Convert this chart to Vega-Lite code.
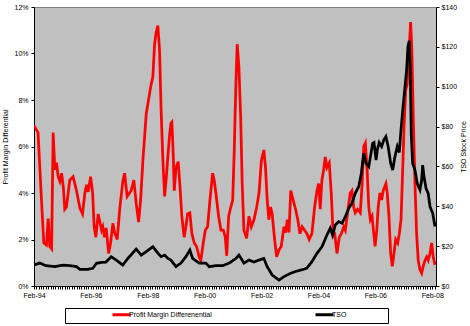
{
  "$schema": "https://vega.github.io/schema/vega-lite/v6.json",
  "width": 402,
  "height": 279,
  "autosize": "none",
  "padding": {"left": 34, "top": 7, "right": 34, "bottom": 40},
  "background": "white",
  "config": {
    "view": {"fill": "#C0C0C0", "stroke": "#808080", "strokeWidth": 1},
    "font": "Liberation Sans",
    "axis": {
      "labelFont": "Liberation Sans", "labelFontSize": 7, "labelColor": "black",
      "titleFont": "Liberation Sans", "titleFontSize": 7, "titleFontWeight": "normal", "titleColor": "black",
      "domainColor": "black", "domainWidth": 1, "tickColor": "black", "tickSize": 3, "grid": false
    },
    "legend": {
      "strokeColor": "black", "fillColor": "white", "padding": 2,
      "labelFont": "Liberation Sans", "labelFontSize": 7, "labelColor": "black", "labelLimit": 300,
      "symbolType": "M-3,0H3", "symbolSize": 36, "symbolStrokeWidth": 3,
      "symbolOffset": 50, "labelOffset": 3, "columnPadding": 50
    }
  },
  "datasets": {
    "pmd": [
      {"date":"1994-02-01","value":6.9},{"date":"1994-03-25","value":6.6},{"date":"1994-05-08","value":3.7},{"date":"1994-06-07","value":1.85},{"date":"1994-07-11","value":1.76},{"date":"1994-08-02","value":2.9},{"date":"1994-08-23","value":1.7},{"date":"1994-09-15","value":1.6},{"date":"1994-10-05","value":6.6},{"date":"1994-10-27","value":5.0},{"date":"1994-11-18","value":5.3},{"date":"1994-12-08","value":4.7},{"date":"1994-12-30","value":4.5},{"date":"1995-01-21","value":4.85},{"date":"1995-02-11","value":4.3},{"date":"1995-03-03","value":3.3},{"date":"1995-03-25","value":3.4},{"date":"1995-05-06","value":4.55},{"date":"1995-06-18","value":4.7},{"date":"1995-08-01","value":4.1},{"date":"1995-09-13","value":3.35},{"date":"1995-10-17","value":3.1},{"date":"1995-11-16","value":4.0},{"date":"1995-12-08","value":4.35},{"date":"1995-12-28","value":4.05},{"date":"1996-01-29","value":4.7},{"date":"1996-02-24","value":4.0},{"date":"1996-03-14","value":2.55},{"date":"1996-04-05","value":2.1},{"date":"1996-05-05","value":3.1},{"date":"1996-05-27","value":2.75},{"date":"1996-06-18","value":2.4},{"date":"1996-07-04","value":2.55},{"date":"1996-07-26","value":2.1},{"date":"1996-08-16","value":2.5},{"date":"1996-09-16","value":1.4},{"date":"1996-10-11","value":1.85},{"date":"1996-11-10","value":2.7},{"date":"1996-12-02","value":2.3},{"date":"1997-01-05","value":2.0},{"date":"1997-02-05","value":3.3},{"date":"1997-03-17","value":4.5},{"date":"1997-04-09","value":4.85},{"date":"1997-05-12","value":3.85},{"date":"1997-06-12","value":4.0},{"date":"1997-07-02","value":4.1},{"date":"1997-08-06","value":4.55},{"date":"1997-09-05","value":3.55},{"date":"1997-10-06","value":2.75},{"date":"1997-11-01","value":3.7},{"date":"1997-11-30","value":5.4},{"date":"1998-01-12","value":7.4},{"date":"1998-02-25","value":8.3},{"date":"1998-03-15","value":8.65},{"date":"1998-04-07","value":9.0},{"date":"1998-04-29","value":10.4},{"date":"1998-05-19","value":10.9},{"date":"1998-06-10","value":11.2},{"date":"1998-07-02","value":10.15},{"date":"1998-07-22","value":7.55},{"date":"1998-08-14","value":5.4},{"date":"1998-09-05","value":3.85},{"date":"1998-09-25","value":4.6},{"date":"1998-10-17","value":5.6},{"date":"1998-11-08","value":6.5},{"date":"1998-11-25","value":7.0},{"date":"1998-12-07","value":7.05},{"date":"1998-12-24","value":5.7},{"date":"1999-01-07","value":4.1},{"date":"1999-01-29","value":5.1},{"date":"1999-02-26","value":5.35},{"date":"1999-03-19","value":4.4},{"date":"1999-04-14","value":3.0},{"date":"1999-05-13","value":2.1},{"date":"1999-06-05","value":2.55},{"date":"1999-06-26","value":3.1},{"date":"1999-07-26","value":3.15},{"date":"1999-08-21","value":2.25},{"date":"1999-09-20","value":1.85},{"date":"1999-10-20","value":1.7},{"date":"1999-11-23","value":1.25},{"date":"1999-12-14","value":1.1},{"date":"2000-01-14","value":1.85},{"date":"2000-02-09","value":2.4},{"date":"2000-03-10","value":2.55},{"date":"2000-04-09","value":3.7},{"date":"2000-05-13","value":4.85},{"date":"2000-06-03","value":4.55},{"date":"2000-06-24","value":4.0},{"date":"2000-07-29","value":3.0},{"date":"2000-08-28","value":2.4},{"date":"2000-09-27","value":2.4},{"date":"2000-10-23","value":2.1},{"date":"2000-11-10","value":1.3},{"date":"2000-12-05","value":3.0},{"date":"2000-12-26","value":3.3},{"date":"2001-01-26","value":3.7},{"date":"2001-02-15","value":5.85},{"date":"2001-03-08","value":8.7},{"date":"2001-03-25","value":10.4},{"date":"2001-04-16","value":9.4},{"date":"2001-05-08","value":7.3},{"date":"2001-05-28","value":4.4},{"date":"2001-06-19","value":2.4},{"date":"2001-07-24","value":2.05},{"date":"2001-08-23","value":3.0},{"date":"2001-09-22","value":2.55},{"date":"2001-10-26","value":2.85},{"date":"2001-11-30","value":3.4},{"date":"2001-12-30","value":4.0},{"date":"2002-01-29","value":5.4},{"date":"2002-03-02","value":5.85},{"date":"2002-03-23","value":5.1},{"date":"2002-04-14","value":3.7},{"date":"2002-05-05","value":2.85},{"date":"2002-05-27","value":3.4},{"date":"2002-06-17","value":3.1},{"date":"2002-07-18","value":2.0},{"date":"2002-08-13","value":1.25},{"date":"2002-09-12","value":1.55},{"date":"2002-10-11","value":1.7},{"date":"2002-11-15","value":2.55},{"date":"2002-12-07","value":2.3},{"date":"2002-12-27","value":2.85},{"date":"2003-01-19","value":2.3},{"date":"2003-02-10","value":4.1},{"date":"2003-03-13","value":3.7},{"date":"2003-04-13","value":3.3},{"date":"2003-05-12","value":2.85},{"date":"2003-06-08","value":2.25},{"date":"2003-07-07","value":2.55},{"date":"2003-08-07","value":2.4},{"date":"2003-09-06","value":2.25},{"date":"2003-10-05","value":2.0},{"date":"2003-11-09","value":2.25},{"date":"2003-12-14","value":3.4},{"date":"2004-01-13","value":4.1},{"date":"2004-02-04","value":4.4},{"date":"2004-02-24","value":3.3},{"date":"2004-03-16","value":4.55},{"date":"2004-04-08","value":5.0},{"date":"2004-04-28","value":5.55},{"date":"2004-05-20","value":5.1},{"date":"2004-06-19","value":5.3},{"date":"2004-07-14","value":4.0},{"date":"2004-08-05","value":2.4},{"date":"2004-08-28","value":2.25},{"date":"2004-09-26","value":1.4},{"date":"2004-10-26","value":2.1},{"date":"2004-11-21","value":2.25},{"date":"2004-12-22","value":2.55},{"date":"2005-01-11","value":2.4},{"date":"2005-02-15","value":3.3},{"date":"2005-03-15","value":4.0},{"date":"2005-04-06","value":4.1},{"date":"2005-04-28","value":3.4},{"date":"2005-05-18","value":3.15},{"date":"2005-06-18","value":3.3},{"date":"2005-07-22","value":3.15},{"date":"2005-08-13","value":4.3},{"date":"2005-09-04","value":6.0},{"date":"2005-09-25","value":6.15},{"date":"2005-10-16","value":5.1},{"date":"2005-11-08","value":3.4},{"date":"2005-11-28","value":2.85},{"date":"2005-12-20","value":3.0},{"date":"2006-01-11","value":2.25},{"date":"2006-01-28","value":1.7},{"date":"2006-02-19","value":2.4},{"date":"2006-03-09","value":3.4},{"date":"2006-03-31","value":4.0},{"date":"2006-04-22","value":3.7},{"date":"2006-05-12","value":4.1},{"date":"2006-06-16","value":4.4},{"date":"2006-07-03","value":4.0},{"date":"2006-07-25","value":3.0},{"date":"2006-08-16","value":1.4},{"date":"2006-09-06","value":0.85},{"date":"2006-09-28","value":1.4},{"date":"2006-10-19","value":2.0},{"date":"2006-11-14","value":1.85},{"date":"2006-12-05","value":2.25},{"date":"2006-12-27","value":2.85},{"date":"2007-01-13","value":4.55},{"date":"2007-02-04","value":6.85},{"date":"2007-02-24","value":8.4},{"date":"2007-03-16","value":8.7},{"date":"2007-04-11","value":10.15},{"date":"2007-04-29","value":11.35},{"date":"2007-05-15","value":10.15},{"date":"2007-06-02","value":7.3},{"date":"2007-06-24","value":4.4},{"date":"2007-07-15","value":2.25},{"date":"2007-08-05","value":1.1},{"date":"2007-08-27","value":0.7},{"date":"2007-09-18","value":0.55},{"date":"2007-10-08","value":0.85},{"date":"2007-10-30","value":1.1},{"date":"2007-11-21","value":1.25},{"date":"2007-12-11","value":1.1},{"date":"2008-01-03","value":1.4},{"date":"2008-01-24","value":1.85},{"date":"2008-02-14","value":1.25},{"date":"2008-03-07","value":0.9}
    ],
    "tso": [
      {"date":"1994-02-01","value":10.5},{"date":"1994-04-16","value":11.5},{"date":"1994-07-03","value":10.2},{"date":"1994-10-27","value":9.7},{"date":"1995-02-08","value":10.5},{"date":"1995-05-06","value":10.2},{"date":"1995-08-01","value":9.7},{"date":"1995-09-13","value":8.4},{"date":"1995-12-23","value":8.4},{"date":"1996-02-26","value":8.9},{"date":"1996-04-14","value":11.4},{"date":"1996-06-18","value":11.9},{"date":"1996-08-12","value":12},{"date":"1996-10-19","value":14.7},{"date":"1996-12-23","value":13},{"date":"1997-03-17","value":10.5},{"date":"1997-05-21","value":13.8},{"date":"1997-09-05","value":18.5},{"date":"1997-11-09","value":15.5},{"date":"1998-01-12","value":17.2},{"date":"1998-04-07","value":19.7},{"date":"1998-06-10","value":16.5},{"date":"1998-07-22","value":14.7},{"date":"1998-09-05","value":15.5},{"date":"1998-10-17","value":13.8},{"date":"1998-11-25","value":13},{"date":"1999-01-29","value":9.7},{"date":"1999-04-02","value":11.5},{"date":"1999-06-05","value":14.7},{"date":"1999-07-26","value":18},{"date":"1999-08-30","value":13.8},{"date":"1999-11-23","value":11.5},{"date":"2000-02-17","value":11.5},{"date":"2000-03-30","value":9.7},{"date":"2000-06-24","value":10.2},{"date":"2000-09-19","value":10.2},{"date":"2000-12-13","value":11.5},{"date":"2001-03-08","value":13.8},{"date":"2001-04-16","value":15.5},{"date":"2001-06-19","value":11.5},{"date":"2001-08-23","value":13},{"date":"2001-10-26","value":12},{"date":"2001-12-30","value":13},{"date":"2002-03-02","value":13.8},{"date":"2002-04-14","value":9.7},{"date":"2002-06-17","value":5.5},{"date":"2002-09-12","value":3},{"date":"2002-11-15","value":4.7},{"date":"2003-02-10","value":6.4},{"date":"2003-04-13","value":7.3},{"date":"2003-06-17","value":8},{"date":"2003-08-07","value":8.5},{"date":"2003-09-06","value":9},{"date":"2003-11-09","value":12.2},{"date":"2004-01-13","value":16.4},{"date":"2004-03-16","value":19.7},{"date":"2004-05-20","value":25.6},{"date":"2004-07-01","value":29},{"date":"2004-08-01","value":25.5},{"date":"2004-09-04","value":30.6},{"date":"2004-10-18","value":32.3},{"date":"2004-11-30","value":31.5},{"date":"2005-01-11","value":34.8},{"date":"2005-02-23","value":39},{"date":"2005-04-06","value":41.5},{"date":"2005-05-18","value":46.5},{"date":"2005-07-01","value":49.8},{"date":"2005-08-04","value":56.5},{"date":"2005-09-04","value":66.6},{"date":"2005-10-03","value":61.6},{"date":"2005-11-08","value":59.9},{"date":"2005-12-28","value":71.6},{"date":"2006-01-14","value":72},{"date":"2006-02-10","value":63.2},{"date":"2006-02-25","value":68.2},{"date":"2006-03-22","value":72},{"date":"2006-04-22","value":70},{"date":"2006-05-21","value":73.3},{"date":"2006-06-16","value":75},{"date":"2006-07-15","value":70},{"date":"2006-08-16","value":61.6},{"date":"2006-09-11","value":58.2},{"date":"2006-10-10","value":65},{"date":"2006-11-09","value":70},{"date":"2006-12-05","value":67},{"date":"2006-12-23","value":76.6},{"date":"2007-01-18","value":88.3},{"date":"2007-02-12","value":98.4},{"date":"2007-03-09","value":108.4},{"date":"2007-03-25","value":120},{"date":"2007-04-11","value":123},{"date":"2007-04-24","value":110},{"date":"2007-05-07","value":76.6},{"date":"2007-05-25","value":61.6},{"date":"2007-06-24","value":58.2},{"date":"2007-07-23","value":51.5},{"date":"2007-08-27","value":48.2},{"date":"2007-09-18","value":53.2},{"date":"2007-10-01","value":60.7},{"date":"2007-10-18","value":54.8},{"date":"2007-11-13","value":49},{"date":"2007-12-11","value":46.5},{"date":"2008-01-03","value":39.8},{"date":"2008-02-07","value":36.5},{"date":"2008-03-07","value":29.8}
    ]
  },
  "encoding": {
    "x": {
      "field": "date", "type": "temporal",
      "scale": {"type": "utc", "domain": [{"year": 1994, "month": 2, "date": 1, "utc": true}, {"year": 2008, "month": 3, "date": 20, "utc": true}]},
      "axis": {
        "title": null, "tickCount": 170,
        "labelExpr": "utcmonth(datum.value) == 1 && utcyear(datum.value) % 2 == 0 ? utcFormat(datum.value, '%b-%y') : ''",
        "labelOverlap": false, "labelFlush": false, "labelPadding": 2, "labelAngle": 0
      }
    }
  },
  "layer": [
    {
      "data": {"name": "pmd"},
      "mark": {"type": "line", "strokeWidth": 2.75, "clip": true},
      "encoding": {
        "y": {
          "field": "value", "type": "quantitative",
          "scale": {"domain": [0, 12], "nice": false, "zero": true},
          "axis": {"title": "Profit Margin Differential", "values": [0, 2, 4, 6, 8, 10, 12], "labelExpr": "datum.value + '%'", "labelPadding": 3, "titlePadding": 5}
        },
        "color": {
          "datum": "Profit Margin Differenential", "type": "nominal",
          "scale": {"domain": ["Profit Margin Differenential", "TSO"], "range": ["#FF0000", "#000000"]},
          "legend": {"title": null, "orient": "none", "direction": "horizontal", "legendX": 31, "legendY": 301,
            "labelExpr": "datum.label == 'TSO' ? 'TSO\u00a0\u00a0\u00a0\u00a0\u00a0\u00a0\u00a0\u00a0\u00a0\u00a0\u00a0\u00a0\u00a0\u00a0\u00a0\u00a0\u00a0\u00a0\u00a0\u00a0\u200b' : datum.label + '\u00a0\u00a0\u00a0\u00a0\u200b'"}
        }
      }
    },
    {
      "data": {"name": "tso"},
      "mark": {"type": "line", "strokeWidth": 2.75, "clip": true},
      "encoding": {
        "y": {
          "field": "value", "type": "quantitative",
          "scale": {"domain": [0, 140], "nice": false},
          "axis": {"orient": "right", "title": "TSO Stock Price", "titleAngle": 270, "values": [0, 20, 40, 60, 80, 100, 120, 140], "labelExpr": "'$' + datum.value", "labelPadding": 2, "titlePadding": 10}
        },
        "color": {"datum": "TSO", "type": "nominal",
          "legend": {"title": null, "orient": "none", "direction": "horizontal", "legendX": 31, "legendY": 301,
            "labelExpr": "datum.label == 'TSO' ? 'TSO\u00a0\u00a0\u00a0\u00a0\u00a0\u00a0\u00a0\u00a0\u00a0\u00a0\u00a0\u00a0\u00a0\u00a0\u00a0\u00a0\u00a0\u00a0\u00a0\u00a0\u200b' : datum.label + '\u00a0\u00a0\u00a0\u00a0\u200b'"}}
      }
    }
  ],
  "resolve": {"scale": {"y": "independent"}}
}
